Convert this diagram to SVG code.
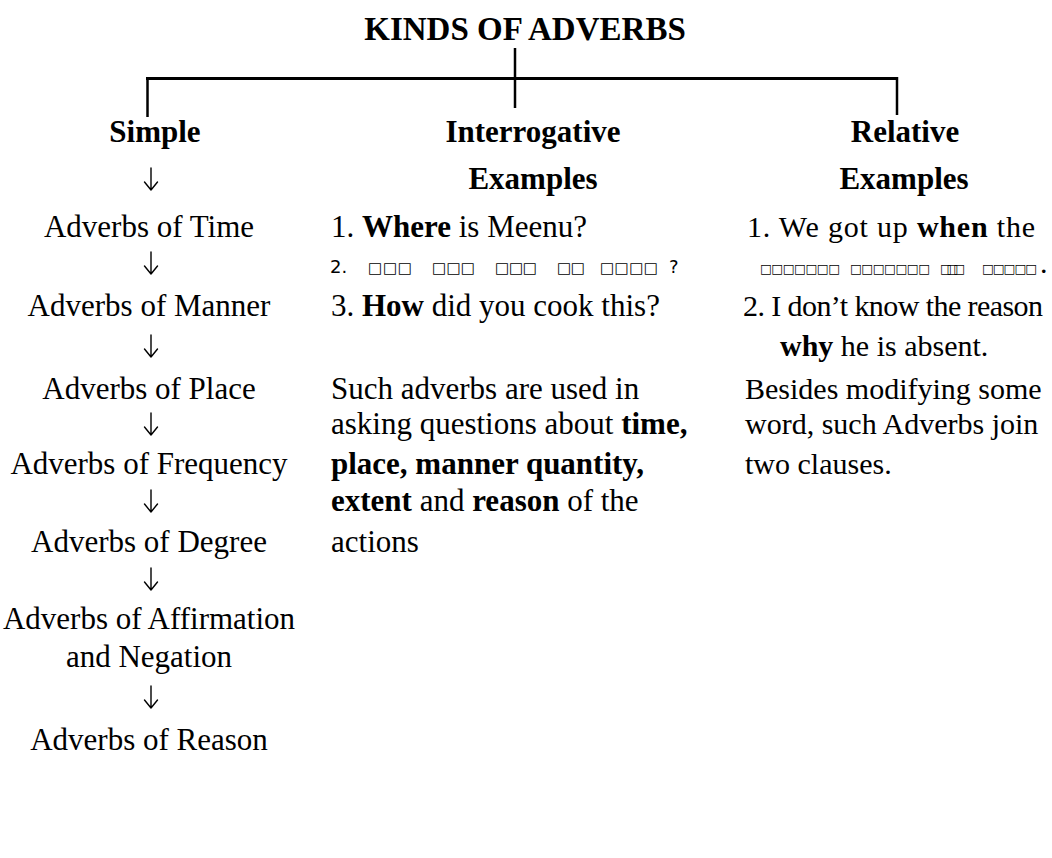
<svg xmlns="http://www.w3.org/2000/svg" width="1052" height="858" viewBox="0 0 1052 858">
<style>
text{font-family:"Liberation Serif","Times New Roman",serif;fill:#000;}
.t{font-size:33px;font-weight:bold;text-anchor:middle;}
.h{font-size:31px;font-weight:bold;text-anchor:middle;}
.l{font-size:31px;text-anchor:middle;}
.c{font-size:31px;}
.r{font-size:30px;}
.b{font-weight:bold;}
.tofu{font-family:"DejaVu Sans",sans-serif;}
.tc{font-family:"DejaVu Sans",sans-serif;font-size:15px;}
.tr{font-family:"DejaVu Sans",sans-serif;font-size:12.5px;}
.ln{stroke:#000;fill:none;}
.ar{stroke:#000;fill:none;stroke-width:1.4;stroke-linecap:round;stroke-linejoin:round;}
</style>
<defs>
<path id="arr" class="ar" d="M0,-11 V11 M-6.5,3 L0,11 L6.5,3"/>
</defs>
<rect width="1052" height="858" fill="#fff"/>
<g id="connectors">
<line class="ln" x1="515" y1="48" x2="515" y2="108" stroke-width="2.5"/>
<line class="ln" x1="146" y1="78.5" x2="898" y2="78.5" stroke-width="3"/>
<line class="ln" x1="147.5" y1="77" x2="147.5" y2="117" stroke-width="2.5"/>
<line class="ln" x1="897" y1="77" x2="897" y2="115" stroke-width="2.5"/>
<use href="#arr" x="151" y="179"/>
<use href="#arr" x="151" y="263"/>
<use href="#arr" x="151" y="346"/>
<use href="#arr" x="151" y="424"/>
<use href="#arr" x="151" y="501"/>
<use href="#arr" x="151" y="579"/>
<use href="#arr" x="151" y="697"/>
</g>
<g id="title"><text class="t" x="525" y="40">KINDS OF ADVERBS</text></g>
<g id="simple"><text class="h" x="155" y="142">Simple</text></g>
<g id="interrogative"><text class="h" x="533" y="142">Interrogative</text><text class="h" x="533" y="189">Examples</text></g>
<g id="relative"><text class="h" x="905" y="142">Relative</text><text class="h" x="904" y="189">Examples</text></g>
<g id="time"><text class="l" x="149" y="237">Adverbs of Time</text></g>
<g id="manner"><text class="l" x="149" y="316">Adverbs of Manner</text></g>
<g id="place"><text class="l" x="149" y="399">Adverbs of Place</text></g>
<g id="frequency"><text class="l" x="149" y="474">Adverbs of Frequency</text></g>
<g id="degree"><text class="l" x="149" y="552">Adverbs of Degree</text></g>
<g id="affirmation"><text class="l" x="149" y="629">Adverbs of Affirmation</text><text class="l" x="149" y="667">and Negation</text></g>
<g id="reason"><text class="l" x="149" y="750">Adverbs of Reason</text></g>
<g id="interrogative-examples">
<text class="c" x="331" y="237">1. <tspan class="b">Where</tspan> is Meenu?</text>
<text class="tofu" font-size="18" x="330" y="273">2.</text>
<text class="tc" x="368" y="273" font-weight="bold" textLength="44" lengthAdjust="spacing">□□□</text>
<text class="tc" x="432" y="273" textLength="43" lengthAdjust="spacing">□□□</text>
<text class="tc" x="495" y="273" textLength="42" lengthAdjust="spacing">□□□</text>
<text class="tc" x="557" y="273" textLength="28" lengthAdjust="spacing">□□</text>
<text class="tc" x="600" y="273" textLength="58" lengthAdjust="spacing">□□□□</text>
<text class="tofu" font-size="18" x="669" y="273">?</text>
<text class="c" x="331" y="316">3. <tspan class="b">How</tspan> did you cook this?</text>
</g>
<g id="interrogative-note">
<text class="c" x="331" y="399">Such adverbs are used in</text>
<text class="c" x="331" y="434">asking questions about <tspan class="b">time,</tspan></text>
<text class="c b" x="331" y="474">place, manner quantity,</text>
<text class="c" x="331" y="511"><tspan class="b">extent</tspan> and <tspan class="b">reason</tspan> of the</text>
<text class="c" x="331" y="552">actions</text>
</g>
<g id="relative-examples">
<text class="r" x="747" y="237" font-size="31" textLength="288" lengthAdjust="spacing">1. We got up <tspan class="b">when</tspan> the</text>
<text class="tr" x="760" y="273" textLength="80" lengthAdjust="spacing">□□□□□□□</text>
<text class="tr" x="850" y="273" textLength="80" lengthAdjust="spacing">□□□□□□□</text>
<text class="tr" x="940" y="273" font-size="9.5" textLength="25" lengthAdjust="spacing">□□□</text>
<text class="tr" x="982" y="273" textLength="55" lengthAdjust="spacing">□□□□□</text>
<text class="r" x="1040" y="273">.</text>
<text class="r" x="743" y="316" textLength="300" lengthAdjust="spacing">2. I don’t know the reason</text>
<text class="r" x="780" y="356" font-size="31"><tspan class="b">why</tspan> he is absent.</text>
</g>
<g id="relative-note">
<text class="r" x="745" y="399">Besides modifying some</text>
<text class="r" x="745" y="434">word, such Adverbs join</text>
<text class="r" x="745" y="474">two clauses.</text>
</g>
</svg>
